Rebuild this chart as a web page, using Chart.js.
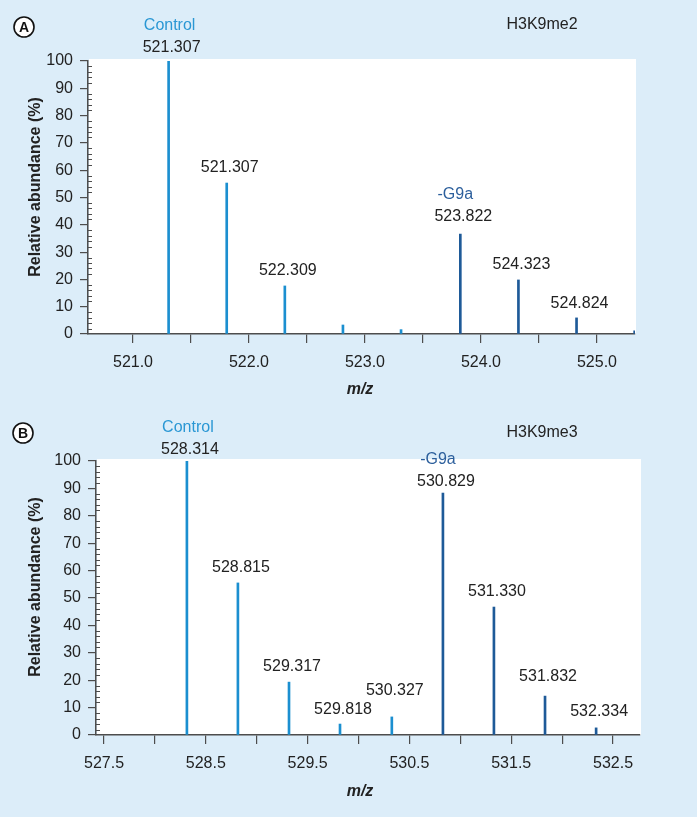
<!DOCTYPE html>
<html><head><meta charset="utf-8">
<script src="https://cdn.jsdelivr.net/npm/chart.js@4/dist/chart.umd.min.js"></script>
<style>
html,body{margin:0;padding:0;background:#dcedf9;}
#wrap{position:relative;width:697px;height:817px;overflow:hidden;background:#dcedf9;}
canvas{position:absolute;left:0;}
</style></head><body>
<div id="wrap">
<canvas id="cA" width="697" height="405" style="top:0;width:697px;height:405px"></canvas>
<canvas id="cB" width="697" height="412" style="top:405px;width:697px;height:412px"></canvas>
</div>
<script>
// ---------- Data: panel A (H3K9me2) ----------
const mzA_control = [521.307, 521.808, 522.309, 522.810, 523.311];
const intA_control = [100, 55.3, 17.6, 3.3, 1.6];
const lblA_control = ['521.307', '521.307', '522.309', '', ''];
const mzA_g9a = [523.822, 524.323, 524.824, 525.325];
const intA_g9a = [36.6, 19.8, 5.9, 1.2];
const lblA_g9a = ['523.822', '524.323', '524.824', ''];
const ticksA = ['521.0', '522.0', '523.0', '524.0', '525.0'];

// ---------- Data: panel B (H3K9me3) ----------
const mzB_control = [528.314, 528.815, 529.317, 529.818, 530.327];
const intB_control = [100, 55.5, 19.3, 4.0, 6.6];
const lblB_control = ['528.314', '528.815', '529.317', '529.818', '530.327'];
const mzB_g9a = [530.829, 531.330, 531.832, 532.334];
const intB_g9a = [88.3, 46.7, 14.2, 2.6];
const lblB_g9a = ['530.829', '531.330', '531.832', '532.334'];
const ticksB = ['527.5', '528.5', '529.5', '530.5', '531.5', '532.5'];

const yTicks = [0, 10, 20, 30, 40, 50, 60, 70, 80, 90, 100];

const FONT = '"Liberation Sans", Arial, Helvetica, sans-serif';
const C_CTRL = '#1b8fd0';
const C_G9A = '#1e5a98';
const AX = '#4d4d4d';
const TXT = '#222222';

const toPts = (xs, ys) => xs.map((x, i) => ({x: x, y: ys[i]}));

const deco = {
  id: 'deco',
  beforeDraw(chart) {
    const ctx = chart.ctx, a = chart.chartArea;
    ctx.save();
    ctx.fillStyle = '#ffffff';
    ctx.fillRect(a.left + 1, a.top - 2, a.right - a.left, a.bottom - a.top + 2);
    ctx.restore();
  },
  afterDraw(chart, args, o) {
    const ctx = chart.ctx, a = chart.chartArea, ys = chart.scales.y;
    ctx.save();
    // minor y ticks (inside)
    ctx.strokeStyle = AX; ctx.lineWidth = 1;
    for (let v = 0; v <= 100; v += 2) {
      if (v % 10 === 0) continue;
      const py = Math.round(ys.getPixelForValue(v)) + 0.5;
      ctx.beginPath(); ctx.moveTo(a.left, py); ctx.lineTo(a.left + 4, py); ctx.stroke();
    }
    // peak labels and group labels
    ctx.textAlign = 'center'; ctx.textBaseline = 'middle';
    chart.data.datasets.forEach((ds, i) => {
      const meta = chart.getDatasetMeta(i);
      const dys = o.labelDy[i];
      ctx.font = '16px ' + FONT; ctx.fillStyle = TXT;
      meta.data.forEach((el, j) => {
        const t = ds.peakLabels[j];
        if (t) ctx.fillText(t, el.x + 3, el.y - dys[j]);
      });
      const el0 = meta.data[0];
      ctx.fillStyle = ds.groupColor;
      const dx = ds.label.startsWith('-') ? -5 : 1;
      ctx.fillText(ds.label, el0.x + dx, el0.y - dys[0] - 22);
    });
    // panel title
    ctx.fillStyle = TXT; ctx.font = '16px ' + FONT;
    ctx.fillText(o.title, 542, o.titleY);
    // circled letter
    ctx.beginPath(); ctx.arc(o.letterX, o.letterY, 10, 0, Math.PI * 2);
    ctx.fillStyle = '#ffffff'; ctx.fill();
    ctx.lineWidth = 1.6; ctx.strokeStyle = '#111'; ctx.stroke();
    ctx.fillStyle = '#111'; ctx.font = 'bold 14px ' + FONT;
    ctx.fillText(o.letter, o.letterX, o.letterY + 1);
    // y axis title
    ctx.save();
    ctx.translate(36, o.yTitleY); ctx.rotate(-Math.PI / 2);
    ctx.font = 'bold 16px ' + FONT; ctx.fillStyle = TXT;
    ctx.fillText('Relative abundance (%)', 0, 0);
    ctx.restore();
    // x axis title
    ctx.font = 'italic bold 16px ' + FONT; ctx.fillStyle = TXT;
    ctx.fillText('m/z', 360, o.xTitleY);
    ctx.restore();
  }
};

function makePanel(id, d) {
  new Chart(document.getElementById(id), {
    type: 'bar',
    data: {
      datasets: [
        {label: 'Control', data: toPts(d.mzC, d.intC), peakLabels: d.lblC, groupColor: '#2a97d4',
         backgroundColor: C_CTRL, barThickness: 2, grouped: false},
        {label: '-G9a', data: toPts(d.mzG, d.intG), peakLabels: d.lblG, groupColor: '#2c5f9c',
         backgroundColor: C_G9A, barThickness: 2, grouped: false}
      ]
    },
    options: {
      responsive: false, animation: false, devicePixelRatio: 1,
      layout: {padding: {left: 0, right: d.padRight, top: d.padTop, bottom: 0}},
      plugins: {
        legend: {display: false}, tooltip: {enabled: false},
        deco: d.deco
      },
      scales: {
        x: {
          type: 'linear', min: d.xmin, max: d.xmax, offset: false,
          grid: {drawOnChartArea: false, offset: false, tickLength: 9, color: AX, lineWidth: 1.2},
          border: {display: true, color: AX, width: 1.5},
          ticks: {
            stepSize: 0.5, includeBounds: false, autoSkip: false, maxRotation: 0,
            padding: 10, color: TXT, font: {family: FONT, size: 16},
            callback: v => { const s = Number(v).toFixed(1); return d.ticks.includes(s) ? s : ''; }
          },
          afterFit: s => { s.height = d.xAxisH; }
        },
        y: {
          min: 0, max: 100,
          grid: {drawOnChartArea: false, tickLength: 8, color: AX, lineWidth: 1.2},
          border: {display: true, color: AX, width: 1.5},
          afterBuildTicks: s => { s.ticks = yTicks.map(v => ({value: v})); },
          ticks: {stepSize: 10, padding: 7, color: TXT, font: {family: FONT, size: 16}},
          afterFit: s => { s.width = d.yAxisW; }
        }
      }
    },
    plugins: [deco]
  });
}

makePanel('cA', {
  mzC: mzA_control, intC: intA_control, lblC: lblA_control,
  mzG: mzA_g9a, intG: intA_g9a, lblG: lblA_g9a, ticks: ticksA,
  xmin: 520.612, xmax: 525.328,
  padRight: 62, padTop: 61, xAxisH: 71, yAxisW: 88,
  deco: {title: 'H3K9me2', titleY: 25, letter: 'A', letterX: 24, letterY: 27, yTitleY: 187, xTitleY: 390,
         labelDy: [[13, 15, 15, 0, 0], [17, 15, 14, 0]]}
});
makePanel('cB', {
  mzC: mzB_control, intC: intB_control, lblC: lblB_control,
  mzG: mzB_g9a, intG: intB_g9a, lblG: lblB_g9a, ticks: ticksB,
  xmin: 527.421, xmax: 532.765,
  padRight: 57, padTop: 56, xAxisH: 82, yAxisW: 96,
  deco: {title: 'H3K9me3', titleY: 28, letter: 'B', letterX: 23, letterY: 28, yTitleY: 182, xTitleY: 387,
         labelDy: [[11, 15, 16, 14, 26], [11, 15, 19, 16]]}
});
</script>
</body></html>
